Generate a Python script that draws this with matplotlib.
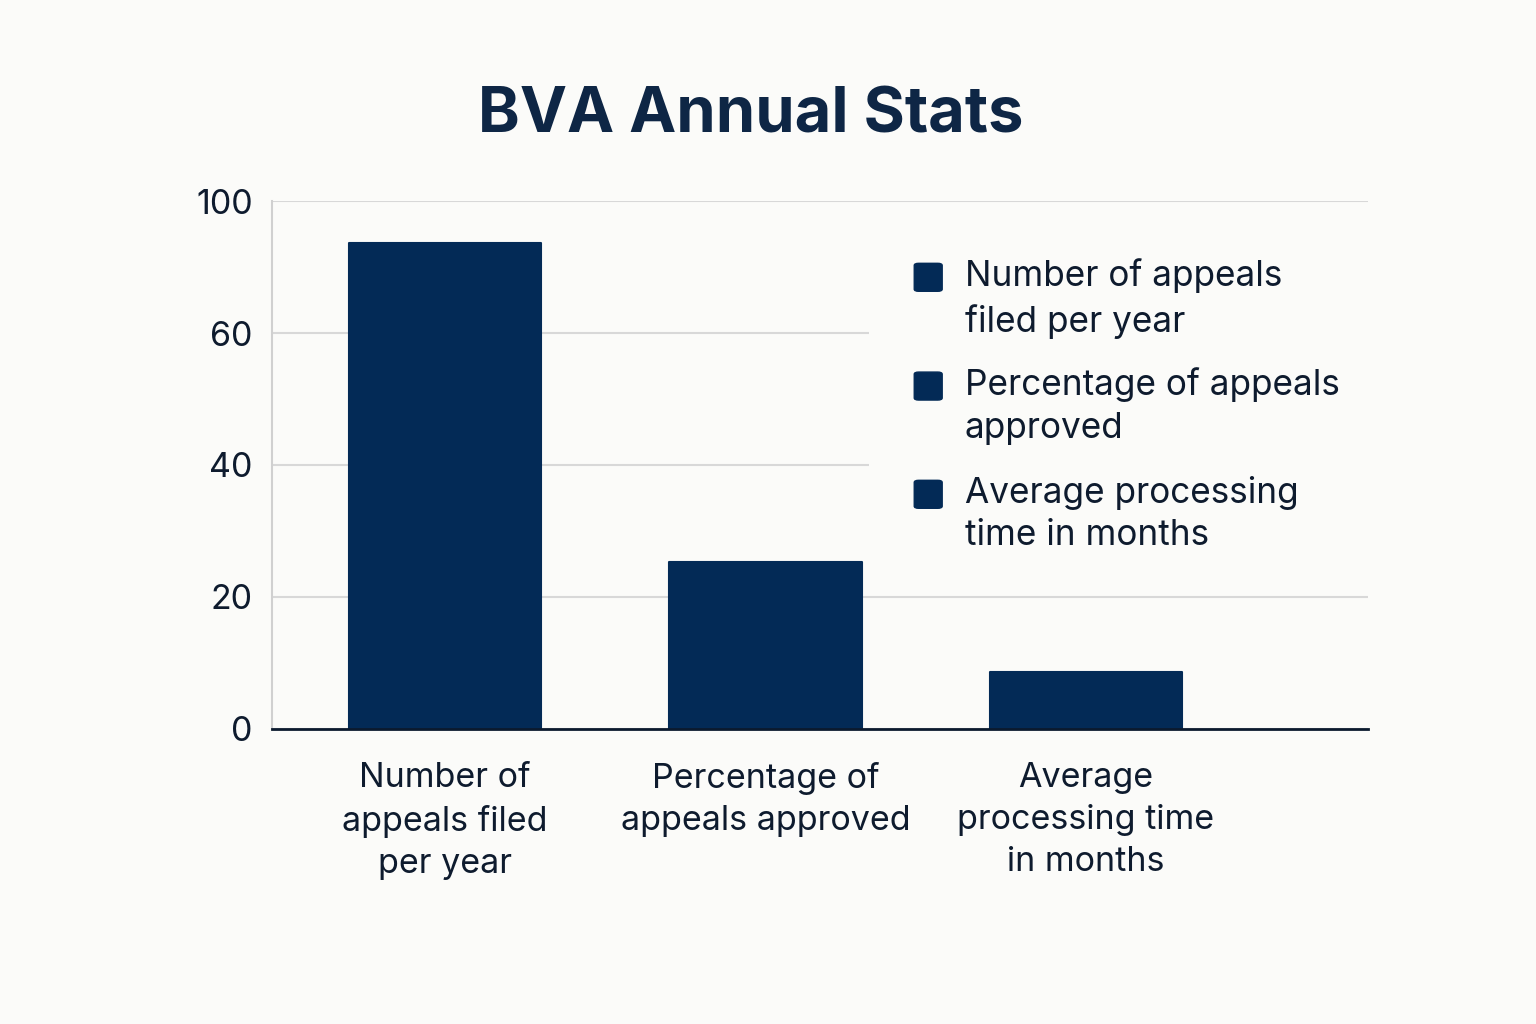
import numpy as np
import matplotlib.pyplot as plt
from matplotlib.patches import FancyBboxPatch, Rectangle

plt.rcParams['font.family'] = ['Inter', 'DejaVu Sans']

# data
categories = ['Number of\nappeals filed\nper year',
              'Percentage of\nappeals approved',
              'Average\nprocessing time\nin months']
legend_labels = ['Number of appeals\nfiled per year',
                 'Percentage of appeals\napproved',
                 'Average processing\ntime in months']
values = [73.6, 25.3, 8.6]
tick_pos = [0, 20, 40, 60, 80]
tick_labels = ['0', '20', '40', '60', '100']

bg = '#FBFBF9'
navy = '#032A56'
text_col = '#0E1B2E'

fig = plt.figure(figsize=(15.36, 10.24), dpi=100, facecolor=bg)
ax = fig.add_axes([0.1771, 0.2881, 0.7135, 0.5156], facecolor=bg)

x = np.arange(len(values))
ax.bar(x, values, width=0.6, color=navy, edgecolor=navy, linewidth=1.5,
       joinstyle='round', zorder=3)

ax.set_xlim(-0.54, 2.88)
ax.set_ylim(0, 80)
ax.set_yticks(tick_pos)
ax.set_yticklabels(tick_labels)
ax.set_xticks(x)
ax.set_xticklabels(categories, linespacing=1.4)
ax.tick_params(axis='both', length=0, labelsize=24.5, labelcolor=text_col)
ax.tick_params(axis='y', pad=14)
ax.tick_params(axis='x', pad=24)

ax.set_axisbelow(True)
ax.grid(axis='y', color='#D8D8D8', linewidth=1.5)
for s in ['top', 'right']:
    ax.spines[s].set_visible(False)
ax.spines['left'].set_color('#D0D0D0')
ax.spines['left'].set_linewidth(1.5)
ax.spines['left'].set_zorder(2)
ax.spines['bottom'].set_color('#0B1A2E')
ax.spines['bottom'].set_linewidth(2)
ax.spines['bottom'].set_zorder(4)

# legend block, covering gridlines behind it
ax.add_patch(Rectangle((0.545, 0.33), 0.46, 0.58, transform=ax.transAxes,
                       facecolor=bg, edgecolor='none', zorder=1, clip_on=False))
leg_y = [0.855, 0.649, 0.444]
for lab, ly in zip(legend_labels, leg_y):
    ax.add_patch(FancyBboxPatch((0.586, ly - 0.026), 0.0255, 0.053,
                                boxstyle='round,pad=0,rounding_size=0.004',
                                transform=ax.transAxes, facecolor=navy,
                                edgecolor=navy, zorder=4, clip_on=False))
    ax.text(0.632, ly + 0.036, lab, transform=ax.transAxes, fontsize=25.3,
            color=text_col, va='top', ha='left', linespacing=1.38, zorder=4)

fig.text(0.489, 0.887, 'BVA Annual Stats', fontsize=45.5, fontweight='bold',
         color='#0E2645', ha='center', va='center')

fig.savefig('out.png', dpi=100, facecolor=bg)
